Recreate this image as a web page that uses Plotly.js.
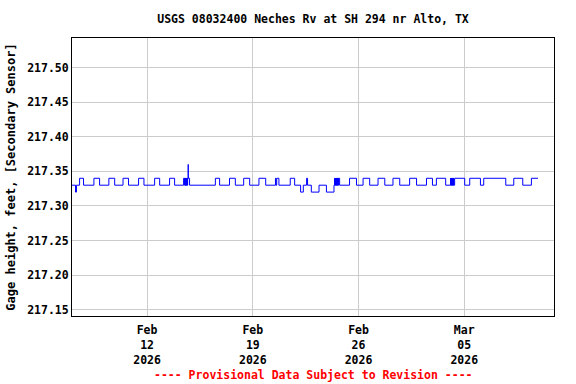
<!DOCTYPE html>
<html>
<head>
<meta charset="utf-8">
<script src="https://cdn.plot.ly/plotly-3.0.1.min.js"></script>
<style>html,body{margin:0;padding:0;background:#fff}#chart{width:576px;height:384px}</style>
</head>
<body>
<div id="chart"></div>
<script>
// Step-change times of the gage height record (value holds until next time)
const gageTimes = [
  "2026-02-07 00:00","2026-02-07 06:15","2026-02-07 07:45","2026-02-07 12:45","2026-02-07 19:00",
  "2026-02-08 11:30","2026-02-08 20:30","2026-02-09 11:15","2026-02-09 20:30",
  "2026-02-10 09:45","2026-02-10 18:30","2026-02-11 10:30","2026-02-11 19:00",
  "2026-02-12 12:00","2026-02-12 20:00","2026-02-13 11:45","2026-02-13 19:45",
  "2026-02-14 10:00","2026-02-14 11:30","2026-02-14 12:00","2026-02-14 12:15","2026-02-14 12:45",
  "2026-02-14 13:00","2026-02-14 13:30","2026-02-14 13:45","2026-02-14 14:15","2026-02-14 14:30",
  "2026-02-14 15:00","2026-02-14 15:15","2026-02-14 15:45","2026-02-14 16:00","2026-02-14 16:30",
  "2026-02-14 17:15","2026-02-14 17:30","2026-02-14 19:30",
  "2026-02-16 12:30","2026-02-16 19:15","2026-02-17 11:00","2026-02-17 20:15",
  "2026-02-18 09:30","2026-02-18 19:00","2026-02-19 09:45","2026-02-19 20:30",
  "2026-02-20 12:00","2026-02-20 12:45","2026-02-20 14:00","2026-02-20 17:30",
  "2026-02-21 11:30","2026-02-21 18:30","2026-02-22 04:00","2026-02-22 08:15",
  "2026-02-22 13:30","2026-02-22 15:00","2026-02-22 21:00","2026-02-23 09:15",
  "2026-02-23 21:00","2026-02-24 09:00",
  "2026-02-24 10:00","2026-02-24 10:30","2026-02-24 11:00","2026-02-24 11:15","2026-02-24 11:45",
  "2026-02-24 12:00","2026-02-24 12:30","2026-02-24 12:45","2026-02-24 13:15","2026-02-24 13:30",
  "2026-02-24 14:00","2026-02-24 14:15","2026-02-24 14:45","2026-02-24 15:00","2026-02-24 15:30",
  "2026-02-24 16:00","2026-02-24 16:30","2026-02-24 18:00",
  "2026-02-25 09:45","2026-02-25 20:45","2026-02-26 07:15","2026-02-26 17:45",
  "2026-02-27 07:00","2026-02-27 17:45","2026-02-28 06:45","2026-02-28 17:30",
  "2026-03-01 09:15","2026-03-01 20:15","2026-03-02 12:00","2026-03-02 21:30",
  "2026-03-03 03:45","2026-03-03 18:30",
  "2026-03-04 02:15","2026-03-04 02:45","2026-03-04 03:15","2026-03-04 03:30","2026-03-04 04:00",
  "2026-03-04 04:15","2026-03-04 04:45","2026-03-04 05:00","2026-03-04 05:30","2026-03-04 05:45",
  "2026-03-04 06:15","2026-03-04 06:30","2026-03-04 07:00","2026-03-04 07:15","2026-03-04 08:45",
  "2026-03-05 00:45","2026-03-05 08:45","2026-03-06 01:45","2026-03-06 07:00",
  "2026-03-07 18:00","2026-03-08 06:45","2026-03-08 21:00","2026-03-09 10:45","2026-03-09 21:15"
];
const gageValues = [
  217.33,217.32,217.33,217.34,217.33,
  217.34,217.33,217.34,217.33,
  217.34,217.33,217.34,217.33,
  217.34,217.33,217.34,217.33,
  217.34,217.33,217.34,217.33,217.34,
  217.33,217.34,217.33,217.34,217.33,
  217.34,217.33,217.34,217.33,217.34,
  217.36,217.34,217.33,
  217.34,217.33,217.34,217.33,
  217.34,217.33,217.34,217.33,
  217.34,217.33,217.34,217.33,
  217.34,217.33,217.32,217.33,
  217.34,217.33,217.32,217.33,
  217.32,217.33,
  217.34,217.33,217.34,217.33,217.34,
  217.33,217.34,217.33,217.34,217.33,
  217.34,217.33,217.34,217.33,217.34,
  217.33,217.34,217.33,
  217.34,217.33,217.34,217.33,
  217.34,217.33,217.34,217.33,
  217.34,217.33,217.34,217.33,
  217.34,217.33,
  217.34,217.33,217.34,217.33,217.34,
  217.33,217.34,217.33,217.34,217.33,
  217.34,217.33,217.34,217.33,217.34,
  217.33,217.34,217.33,217.34,
  217.33,217.34,217.33,217.34,217.34
];
const xTickVals = ["2026-02-12","2026-02-19","2026-02-26","2026-03-05"];
const xTickText = ["Feb<br>12<br>2026","Feb<br>19<br>2026","Feb<br>26<br>2026","Mar<br>05<br>2026"];
const yTickVals = [217.15,217.20,217.25,217.30,217.35,217.40,217.45,217.50];
const yTickText = ["217.15","217.20","217.25","217.30","217.35","217.40","217.45","217.50"];
const titleText = "USGS 08032400 Neches Rv at SH 294 nr Alto, TX";
const yTitleText = "Gage height, feet, [Secondary Sensor]";
const noteText = "---- Provisional Data Subject to Revision ----";

const F = "DejaVu Sans Mono, monospace";
const trace = {
  x: gageTimes, y: gageValues, type: "scatter", mode: "lines",
  line: {color: "#0000ff", width: 1, shape: "hv"}, hoverinfo: "skip"
};
const layout = {
  width: 576, height: 384,
  margin: {l: 72, r: 22, t: 38, b: 68},
  paper_bgcolor: "#ffffff", plot_bgcolor: "#ffffff",
  showlegend: false,
  title: {text: titleText, x: 0.5, xref: "paper", y: 1 - 19/384, yref: "container", yanchor: "middle",
          font: {family: F, size: 11.5, color: "#000", weight: "bold"}},
  xaxis: {
    type: "date", range: ["2026-02-07 00:40", "2026-03-10 22:40"],
    tickvals: xTickVals, ticktext: xTickText, ticks: "", ticklabelstandoff: 3,
    tickfont: {family: F, size: 11.5, color: "#000", weight: "bold"},
    showgrid: true, gridcolor: "#cccccc", gridwidth: 1,
    showline: true, linecolor: "#000", linewidth: 1, mirror: true, zeroline: false
  },
  yaxis: {
    range: [217.1407, 217.543],
    tickvals: yTickVals, ticktext: yTickText, ticks: "",
    tickfont: {family: F, size: 11.5, color: "#000", weight: "bold"},
    showgrid: true, gridcolor: "#cccccc", gridwidth: 1,
    showline: true, linecolor: "#000", linewidth: 1, mirror: true, zeroline: false,
    title: {text: yTitleText, standoff: 8, font: {family: F, size: 12, color: "#000", weight: "bold"}}
  },
  annotations: [{
    text: noteText, xref: "paper", yref: "paper", x: 0.5, y: -59/278, yanchor: "middle",
    showarrow: false, font: {family: F, size: 11.5, color: "#ff0000", weight: "bold"}
  }]
};
Plotly.newPlot("chart", [trace], layout, {staticPlot: true, displayModeBar: false});
</script>
</body>
</html>
